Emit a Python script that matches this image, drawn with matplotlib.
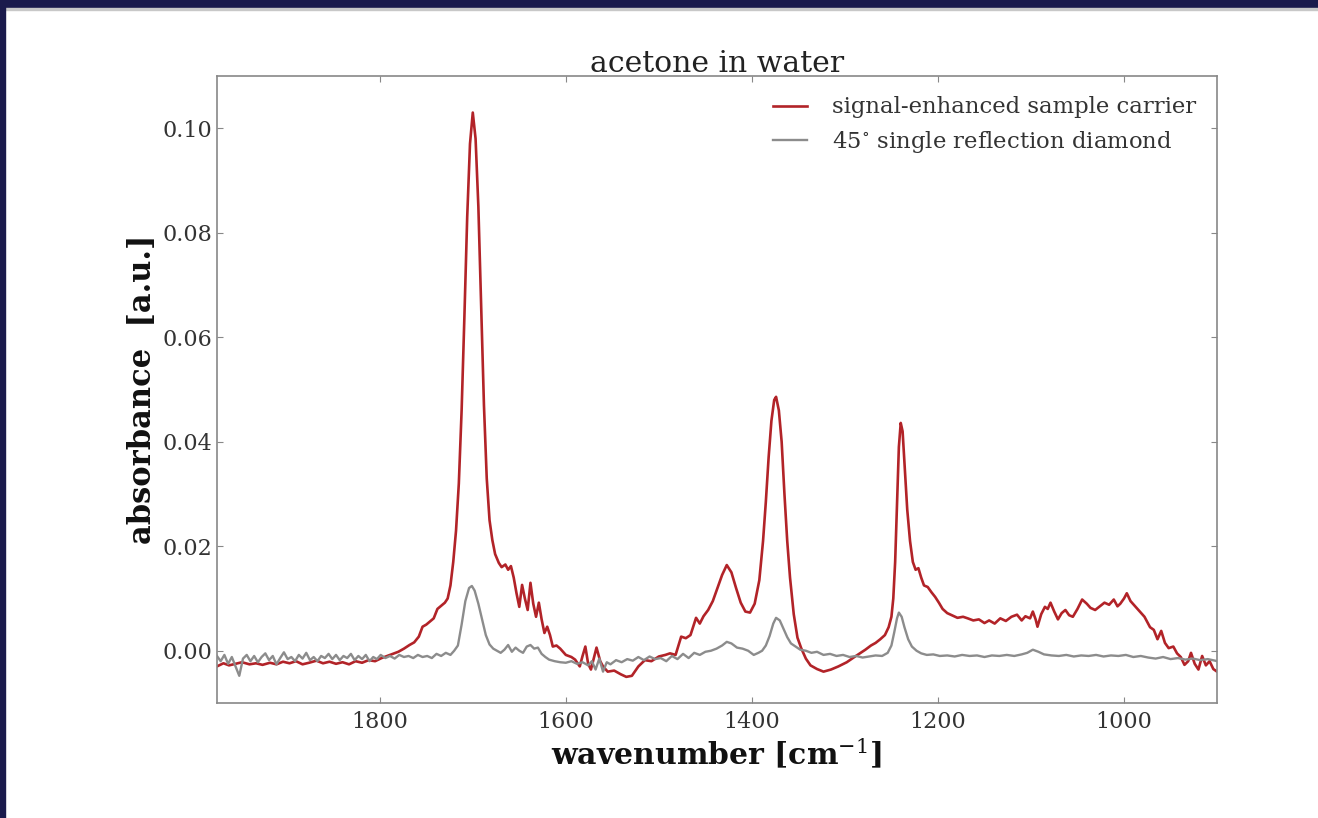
import matplotlib
matplotlib.use("Agg")
import matplotlib.pyplot as plt
from matplotlib.patches import Rectangle

# signal-enhanced sample carrier (red)
wn_red = [1975, 1968, 1962, 1955, 1948, 1940, 1933, 1926, 1918, 1911, 1904, 1897, 1890, 1883,
          1876, 1868, 1861, 1854, 1847, 1840, 1833, 1826, 1819, 1812, 1805, 1798, 1792, 1786,
          1780, 1774, 1768, 1763, 1758, 1754, 1750, 1746, 1742, 1738, 1734, 1730, 1727, 1724,
          1721, 1718, 1715, 1712, 1709, 1706, 1703, 1700, 1697, 1694, 1691, 1688, 1685, 1682,
          1679, 1676, 1672, 1669, 1665, 1662, 1659, 1656, 1653, 1650, 1647, 1644, 1641, 1638,
          1635, 1632, 1629, 1626, 1623, 1620, 1617, 1614, 1610, 1606, 1600, 1594, 1590, 1585,
          1582, 1579, 1576, 1573, 1570, 1567, 1563, 1560, 1555, 1548, 1541, 1535, 1529, 1522,
          1515, 1508, 1500, 1493, 1488, 1482, 1476, 1471, 1466, 1460, 1456, 1452, 1447, 1442,
          1437, 1432, 1427, 1422, 1417, 1412, 1407, 1402, 1397, 1392, 1388, 1385, 1382, 1379,
          1376, 1374, 1371, 1368, 1365, 1362, 1359, 1355, 1351, 1347, 1342, 1337, 1330, 1323,
          1315, 1307, 1298, 1289, 1283, 1278, 1272, 1267, 1262, 1257, 1253, 1250, 1248, 1246,
          1244, 1242, 1240, 1238, 1236, 1233, 1230, 1227, 1224, 1221, 1218, 1215, 1211, 1207,
          1203, 1199, 1195, 1190, 1185, 1179, 1173, 1168, 1162, 1156, 1150, 1145, 1139, 1133,
          1127, 1121, 1115, 1110, 1106, 1101, 1098, 1095, 1093, 1089, 1085, 1082, 1079, 1075,
          1071, 1067, 1063, 1059, 1055, 1050, 1045, 1040, 1036, 1031, 1026, 1021, 1016, 1011,
          1007, 1004, 1000, 997, 993, 988, 983, 978, 972, 968, 964, 960, 956, 952,
          947, 943, 939, 935, 931, 928, 924, 920, 916, 912, 908, 904, 900]
abs_red = [-0.0030, -0.0024, -0.0028, -0.0025, -0.0022, -0.0026, -0.0024, -0.0027, -0.0023,
           -0.0026, -0.0021, -0.0024, -0.0020, -0.0026, -0.0023, -0.0019, -0.0024, -0.0021,
           -0.0025, -0.0022, -0.0026, -0.0020, -0.0023, -0.0018, -0.0020, -0.0014, -0.0010,
           -0.0006, -0.0002, 0.0004, 0.0011, 0.0016, 0.0027, 0.0046, 0.0050, 0.0056, 0.0062,
           0.0080, 0.0086, 0.0092, 0.0100, 0.0125, 0.0170, 0.0230, 0.0320, 0.0460, 0.0640,
           0.0830, 0.0970, 0.1030, 0.0980, 0.0850, 0.0660, 0.0470, 0.0330, 0.0250, 0.0212,
           0.0185, 0.0168, 0.0160, 0.0165, 0.0155, 0.0162, 0.0140, 0.0110, 0.0084, 0.0126,
           0.0100, 0.0078, 0.0130, 0.0090, 0.0065, 0.0092, 0.0060, 0.0034, 0.0046, 0.0030,
           0.0008, 0.0010, 0.0004, -0.0008, -0.0012, -0.0017, -0.0030, -0.0010, 0.0008,
           -0.0025, -0.0036, -0.0015, 0.0006, -0.0020, -0.0030, -0.0040, -0.0038, -0.0045,
           -0.0050, -0.0048, -0.0030, -0.0018, -0.0020, -0.0011, -0.0008, -0.0005, -0.0008,
           0.0027, 0.0024, 0.0030, 0.0063, 0.0052, 0.0066, 0.0078, 0.0095, 0.0120, 0.0145,
           0.0164, 0.0150, 0.0120, 0.0092, 0.0075, 0.0073, 0.0090, 0.0135, 0.0210, 0.0285,
           0.0370, 0.0440, 0.0480, 0.0486, 0.0460, 0.0400, 0.0300, 0.0210, 0.0140, 0.0070,
           0.0025, 0.0005, -0.0015, -0.0028, -0.0035, -0.0040, -0.0036, -0.0030, -0.0022,
           -0.0011, -0.0004, 0.0002, 0.0010, 0.0015, 0.0022, 0.0030, 0.0045, 0.0065, 0.0100,
           0.0170, 0.0280, 0.0390, 0.0436, 0.0420, 0.0360, 0.0270, 0.0210, 0.0170, 0.0155,
           0.0158, 0.0140, 0.0125, 0.0122, 0.0112, 0.0103, 0.0092, 0.0080, 0.0072, 0.0068,
           0.0063, 0.0065, 0.0062, 0.0058, 0.0060, 0.0053, 0.0058, 0.0052, 0.0062, 0.0057,
           0.0065, 0.0069, 0.0058, 0.0066, 0.0062, 0.0075, 0.0060, 0.0046, 0.0070, 0.0084,
           0.0080, 0.0092, 0.0075, 0.0060, 0.0072, 0.0078, 0.0068, 0.0065, 0.0080, 0.0098,
           0.0090, 0.0082, 0.0078, 0.0085, 0.0092, 0.0088, 0.0098, 0.0085, 0.0090, 0.0100,
           0.0110, 0.0095, 0.0085, 0.0075, 0.0065, 0.0045, 0.0040, 0.0022, 0.0038, 0.0015,
           0.0005, 0.0008, -0.0005, -0.0012, -0.0027, -0.0020, -0.0004, -0.0025, -0.0036,
           -0.0010, -0.0028, -0.0020, -0.0035, -0.0040]

# 45 deg single reflection diamond (gray)
wn_gray = [1975, 1971, 1967, 1963, 1959, 1955, 1951, 1947, 1943, 1939, 1935, 1931, 1927, 1923,
           1919, 1915, 1911, 1907, 1903, 1899, 1895, 1891, 1887, 1883, 1879, 1875, 1871, 1867,
           1863, 1859, 1855, 1851, 1847, 1843, 1839, 1835, 1831, 1827, 1823, 1819, 1815, 1811,
           1807, 1803, 1799, 1794, 1789, 1784, 1779, 1774, 1769, 1764, 1759, 1754, 1749, 1744,
           1739, 1734, 1729, 1724, 1720, 1716, 1712, 1708, 1704, 1701, 1698, 1694, 1690, 1686,
           1682, 1678, 1674, 1670, 1666, 1662, 1658, 1654, 1650, 1646, 1642, 1638, 1634, 1630,
           1626, 1622, 1618, 1612, 1606, 1600, 1594, 1588, 1582, 1576, 1572, 1568, 1564, 1560,
           1556, 1552, 1546, 1540, 1534, 1528, 1522, 1516, 1510, 1504, 1498, 1492, 1486, 1480,
           1474, 1468, 1462, 1456, 1450, 1444, 1438, 1432, 1427, 1422, 1416, 1410, 1404, 1398,
           1393, 1389, 1385, 1381, 1377, 1374, 1370, 1366, 1362, 1358, 1353, 1348, 1342, 1336,
           1330, 1323, 1316, 1309, 1302, 1295, 1288, 1281, 1274, 1267, 1260, 1254, 1250, 1247,
           1244, 1242, 1239, 1236, 1232, 1228, 1223, 1218, 1212, 1205, 1198, 1190, 1182, 1174,
           1166, 1158, 1150, 1142, 1134, 1126, 1118, 1110, 1104, 1098, 1092, 1086, 1078, 1070,
           1062, 1054, 1046, 1038, 1030, 1022, 1014, 1006, 998, 990, 982, 974, 966, 958,
           950, 942, 934, 926, 918, 910, 902, 900]
abs_gray = [-0.0010, -0.0020, -0.0008, -0.0025, -0.0012, -0.0030, -0.0048, -0.0015, -0.0008,
            -0.0020, -0.0010, -0.0022, -0.0012, -0.0005, -0.0018, -0.0010, -0.0026, -0.0014,
            -0.0003, -0.0016, -0.0012, -0.0020, -0.0008, -0.0015, -0.0004, -0.0018, -0.0012,
            -0.0020, -0.0010, -0.0014, -0.0006, -0.0016, -0.0008, -0.0018, -0.0010, -0.0014,
            -0.0006, -0.0018, -0.0010, -0.0016, -0.0008, -0.0020, -0.0012, -0.0016, -0.0008,
            -0.0014, -0.0010, -0.0015, -0.0008, -0.0012, -0.0010, -0.0014, -0.0008, -0.0012,
            -0.0010, -0.0014, -0.0006, -0.0010, -0.0004, -0.0008, 0.0000, 0.0010, 0.0050,
            0.0095, 0.0120, 0.0124, 0.0115, 0.0090, 0.0060, 0.0030, 0.0012, 0.0004, 0.0000,
            -0.0004, 0.0002, 0.0011, -0.0002, 0.0006, 0.0000, -0.0004, 0.0008, 0.0011, 0.0004,
            0.0006, -0.0006, -0.0012, -0.0017, -0.0020, -0.0022, -0.0023, -0.0020, -0.0025,
            -0.0022, -0.0028, -0.0020, -0.0036, -0.0015, -0.0040, -0.0022, -0.0026, -0.0018,
            -0.0022, -0.0016, -0.0019, -0.0012, -0.0018, -0.0011, -0.0016, -0.0014, -0.0020,
            -0.0010, -0.0016, -0.0006, -0.0014, -0.0004, -0.0008, -0.0002, 0.0000, 0.0004,
            0.0010, 0.0017, 0.0014, 0.0006, 0.0004, 0.0000, -0.0008, -0.0004, 0.0000, 0.0010,
            0.0028, 0.0052, 0.0063, 0.0058, 0.0042, 0.0026, 0.0014, 0.0008, 0.0002, 0.0000,
            -0.0004, -0.0002, -0.0008, -0.0006, -0.0010, -0.0008, -0.0012, -0.0010, -0.0013,
            -0.0011, -0.0009, -0.0010, -0.0004, 0.0010, 0.0035, 0.0062, 0.0073, 0.0065, 0.0045,
            0.0022, 0.0008, 0.0000, -0.0005, -0.0008, -0.0007, -0.0010, -0.0009, -0.0011,
            -0.0008, -0.0010, -0.0009, -0.0012, -0.0009, -0.0010, -0.0008, -0.0010, -0.0007,
            -0.0004, 0.0002, -0.0002, -0.0007, -0.0009, -0.0010, -0.0008, -0.0011, -0.0009,
            -0.0010, -0.0008, -0.0011, -0.0009, -0.0010, -0.0008, -0.0012, -0.0010, -0.0013,
            -0.0015, -0.0012, -0.0016, -0.0014, -0.0017, -0.0015, -0.0018, -0.0016, -0.0019,
            -0.0020]

label_red = "signal-enhanced sample carrier"
label_gray = r"45$^{\circ}$ single reflection diamond"

plt.rcParams['font.family'] = ['DejaVu Serif']
plt.rcParams['mathtext.fontset'] = 'dejavuserif'

fig = plt.figure(figsize=(13.18, 8.18), dpi=100)
fig.patch.set_facecolor('white')

# dark frame along top and left edge of the screenshot
fig.patches.append(Rectangle((0, 1 - 8 / 818), 1, 8 / 818, transform=fig.transFigure,
                             color='#1a1a4c', zorder=0))
fig.patches.append(Rectangle((0, 1 - 10 / 818), 1, 2 / 818, transform=fig.transFigure,
                             color='#c8c8c8', zorder=0))
fig.patches.append(Rectangle((0, 0), 5 / 1318, 1, transform=fig.transFigure,
                             color='#1a1a4c', zorder=0))

ax = fig.add_axes([0.1646, 0.1406, 0.7588, 0.7665])
ax.plot(wn_red, abs_red, color='#b22328', lw=1.9, label=label_red)
ax.plot(wn_gray, abs_gray, color='#8c8c8c', lw=1.7, label=label_gray)

ax.set_xlim(1975, 900)
ax.set_ylim(-0.01, 0.11)
ax.set_xticks([1800, 1600, 1400, 1200, 1000])
ax.set_yticks([0.00, 0.02, 0.04, 0.06, 0.08, 0.10])
ax.set_yticklabels(['0.00', '0.02', '0.04', '0.06', '0.08', '0.10'])

ax.tick_params(direction='in', top=True, right=True, length=4, width=0.8,
               colors='#888888', labelcolor='#333333', labelsize=16, pad=6)
ax.tick_params(axis='y', pad=3.5)
for s in ax.spines.values():
    s.set_color('#888888')
    s.set_linewidth(1.2)

ax.set_title("acetone in water", fontsize=21.5, color='#222222', pad=3)
ax.set_xlabel(r"wavenumber [cm$^{-1}$]", fontsize=21.5, fontweight='bold',
              color='#111111', labelpad=2)
ax.set_ylabel("absorbance  [a.u.]", fontsize=22, fontweight='bold', color='#111111',
              labelpad=3)

leg = ax.legend(loc='upper right', frameon=False, fontsize=16.4, handlelength=1.5,
                handletextpad=1.1, labelspacing=0.45, borderaxespad=0.5)
for t in leg.get_texts():
    t.set_color('#333333')

fig.savefig("out.png", dpi=100, facecolor='white')
